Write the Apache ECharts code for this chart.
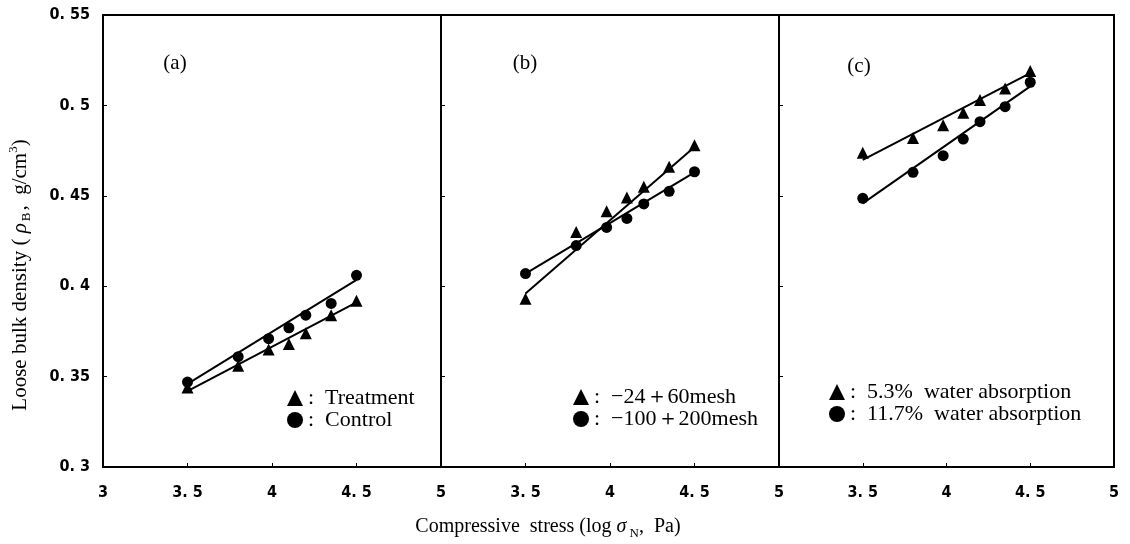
<!DOCTYPE html>
<html>
<head>
<meta charset="utf-8">
<script src="https://cdn.jsdelivr.net/npm/echarts@6/dist/echarts.min.js"></script>
<style>
html,body{margin:0;padding:0;background:#fff;}
#chart{width:1130px;height:544px;}
</style>
</head>
<body>
<div id="chart"></div>
<script>
// ---- data ----
const stressX = [3.5, 3.8, 3.98, 4.1, 4.2, 4.35, 4.5];
const fitX = [3.5, 4.5];

// panel (a)
const aTreatment = [0.344, 0.356, 0.365, 0.368, 0.374, 0.384, 0.392];
const aControl   = [0.347, 0.361, 0.371, 0.377, 0.384, 0.3905, 0.406];
const aTreatmentFit = [0.342, 0.391];
const aControlFit   = [0.346, 0.4035];

// panel (b)
const bCoarse = [0.393, 0.430, 0.4415, 0.449, 0.455, 0.466, 0.478];
const bFine   = [0.407, 0.4225, 0.4325, 0.4375, 0.4455, 0.4525, 0.4633];
const bCoarseFit = [0.396, 0.477];
const bFineFit   = [0.407, 0.463];

// panel (c)
const cLow  = [0.4738, 0.482, 0.489, 0.496, 0.503, 0.5094, 0.519];
const cHigh = [0.4486, 0.463, 0.4722, 0.4814, 0.491, 0.4993, 0.5128];
const cLowFit  = [0.4699, 0.5178];
const cHighFit = [0.4458, 0.5105];

const seriesNames = [
  ['Treatment', 'Control'],
  ['−24＋60mesh', '−100＋200mesh'],
  ['5.3%  water absorption', '11.7%  water absorption']
];
const panelLabels = ['(a)', '(b)', '(c)'];
const xTickMin = 3, xTickMax = 5, xTickStep = 0.5;
const yTickMin = 0.3, yTickMax = 0.55, yTickStep = 0.05;

// ---- chart ----
const chart = echarts.init(document.getElementById('chart'), null, {renderer: 'canvas'});

const tickFont = {fontFamily: 'DejaVu Sans Condensed, DejaVu Sans', fontWeight: 'bold', fontSize: 16, color: '#000'};
const serif = 'Liberation Serif, Times New Roman, serif';

function fmt(v) {
  return String(Number(v.toFixed(2))).replace('.', '. ');
}

const grids = [
  {left: 103, top: 15, width: 338, height: 452},
  {left: 441, top: 15, width: 338, height: 452},
  {left: 779, top: 15, width: 335, height: 452}
].map(g => Object.assign(g, {show: true, borderColor: '#000', borderWidth: 2, backgroundColor: 'transparent'}));

const xAxes = [0, 1, 2].map(i => ({
  type: 'value', gridIndex: i, min: xTickMin, max: xTickMax, interval: xTickStep,
  axisLine: {show: true, lineStyle: {color: '#000', width: 2}},
  axisTick: {show: true, inside: true, length: 4, lineStyle: {color: '#000', width: 1}},
  splitLine: {show: false},
  axisLabel: Object.assign({margin: 18, formatter: fmt, showMinLabel: i === 0}, tickFont)
}));

const yAxes = [0, 1, 2].map(i => ({
  type: 'value', gridIndex: i, min: yTickMin, max: yTickMax, interval: yTickStep,
  axisLine: {show: true, lineStyle: {color: '#000', width: 2}},
  axisTick: {show: true, inside: true, length: 4, lineStyle: {color: '#000', width: 1}},
  splitLine: {show: false},
  axisLabel: Object.assign({show: i === 0, margin: 13, formatter: fmt}, tickFont)
}));

const pointSets = [[aTreatment, aControl], [bCoarse, bFine], [cLow, cHigh]];
const fitSets = [[aTreatmentFit, aControlFit], [bCoarseFit, bFineFit], [cLowFit, cHighFit]];
const symbols = ['triangle', 'circle'];
const symbolSizes = [12, 11];

const series = [];
for (let p = 0; p < 3; p++) {
  for (let s = 0; s < 2; s++) {
    series.push({
      type: 'line', name: seriesNames[p][s] + ' fit', xAxisIndex: p, yAxisIndex: p,
      data: fitX.map((x, i) => [x, fitSets[p][s][i]]),
      showSymbol: false, symbol: 'none', silent: true,
      lineStyle: {color: '#000', width: 2}, z: 2
    });
    series.push({
      type: 'scatter', name: seriesNames[p][s], xAxisIndex: p, yAxisIndex: p,
      data: stressX.map((x, i) => [x, pointSets[p][s][i]]),
      symbol: symbols[s], symbolSize: symbolSizes[s],
      itemStyle: {color: '#000', opacity: 1}, z: 3
    });
  }
}

const legendPos = [
  {left: 282, top: 382},
  {left: 568, top: 381},
  {left: 824, top: 376}
];
const legends = legendPos.map((pos, p) => ({
  left: pos.left, top: pos.top, orient: 'vertical',
  data: seriesNames[p].map((n, s) => ({name: n, icon: symbols[s]})),
  itemWidth: 16, itemHeight: 16, itemGap: 0, selectedMode: false,
  formatter: n => ':  ' + n,
  textStyle: {fontFamily: serif, fontSize: 22, lineHeight: 21, color: '#000'},
  itemStyle: {color: '#000', opacity: 1}
}));

const panelLabelPos = [[175, 63], [525, 63], [859, 66]];
const graphic = panelLabelPos.map((pos, i) => ({
  type: 'text', x: pos[0], y: pos[1],
  style: {text: panelLabels[i], fontFamily: serif, fontSize: 21, fill: '#000', align: 'center', verticalAlign: 'middle'}
}));

graphic.push({
  type: 'text', x: 20, y: 275, rotation: Math.PI / 2,
  style: {
    text: '{n|Loose bulk density ( }{g|ρ}{s|B}{n|,  g/cm}{p|3}{n|)}',
    align: 'center', verticalAlign: 'middle', fill: '#000',
    fontFamily: serif, fontSize: 21,
    rich: {
      n: {fontFamily: serif, fontSize: 21, fill: '#000', lineHeight: 26},
      g: {fontFamily: serif, fontSize: 21, fill: '#000', fontStyle: 'italic', lineHeight: 26},
      s: {fontFamily: serif, fontSize: 13, fill: '#000', verticalAlign: 'bottom', lineHeight: 26, padding: [0, 2, 0, 2]},
      p: {fontFamily: serif, fontSize: 13, fill: '#000', verticalAlign: 'top', lineHeight: 26}
    }
  }
});

graphic.push({
  type: 'text', x: 548, y: 527,
  style: {
    text: '{n|Compressive  stress (log }{g|σ}{s| N}{n|,  Pa)}',
    align: 'center', verticalAlign: 'middle', fill: '#000',
    fontFamily: serif, fontSize: 20,
    rich: {
      n: {fontFamily: serif, fontSize: 20, fill: '#000', lineHeight: 26},
      g: {fontFamily: serif, fontSize: 20, fill: '#000', fontStyle: 'italic', lineHeight: 26},
      s: {fontFamily: serif, fontSize: 13, fill: '#000', verticalAlign: 'bottom', lineHeight: 26}
    }
  }
});

chart.setOption({
  animation: false,
  backgroundColor: '#fff',
  grid: grids,
  xAxis: xAxes,
  yAxis: yAxes,
  legend: legends,
  graphic: graphic,
  series: series
});
</script>
</body>
</html>
